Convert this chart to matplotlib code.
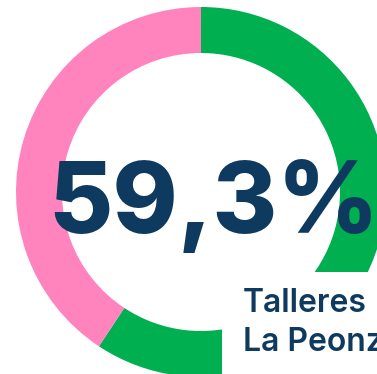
import matplotlib.pyplot as plt
from matplotlib.patches import Rectangle

# share of the total, clockwise from 12 o'clock
shares = [59.3, 40.7]
colors = ['#00AF50', '#FF84BD']
headline = '59,3%'
caption = ['Talleres', 'La Peonz']
navy = '#0E3A5F'

W, H = 377, 374
fig = plt.figure(figsize=(W / 100, H / 100), dpi=100)
ax = fig.add_axes([0, 0, 1, 1])
ax.set_xlim(0, W)
ax.set_ylim(0, H)
ax.set_aspect('equal')
ax.axis('off')

ax.pie(shares, colors=colors, startangle=90, counterclock=False,
       center=(201, H - 192), radius=185,
       wedgeprops=dict(width=46, linewidth=0))
ax.set_xlim(0, W)
ax.set_ylim(0, H)

ax.text(214, H - 233, headline, ha='center', va='baseline', color=navy,
        fontsize=71, fontweight='heavy', family='Inter')

# label card in the lower right corner
ax.add_patch(Rectangle((222, 0), W - 222, H - 272, facecolor='white',
                       edgecolor='none', zorder=3))
ax.text(243, H - 312, caption[0], ha='left', va='baseline', color=navy,
        fontsize=23, fontweight='semibold', family='Inter', zorder=4)
ax.text(243, H - 351, caption[1], ha='left', va='baseline', color=navy,
        fontsize=23, fontweight='semibold', family='Inter', zorder=4)

fig.savefig('out.png', dpi=100)
